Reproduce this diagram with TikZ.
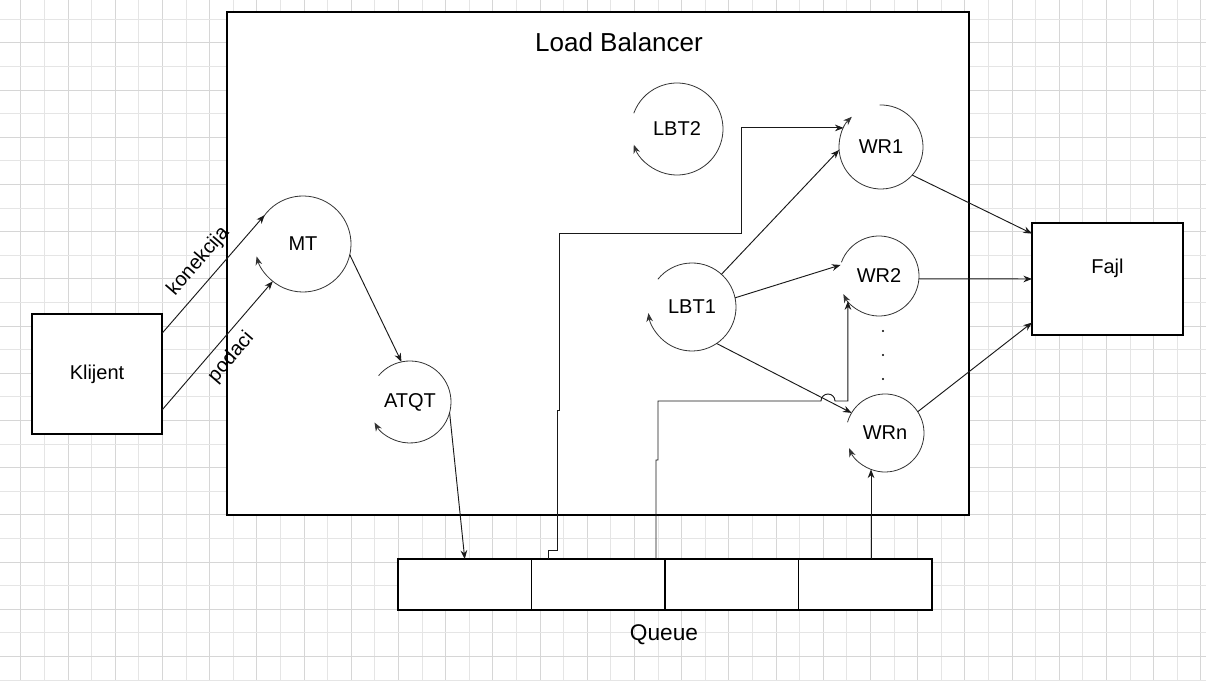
\documentclass[tikz,border=0pt]{standalone}
\usepackage{fontspec}
\setmainfont{Liberation Sans}
\usepackage{tikz}
\usetikzlibrary{arrows.meta,positioning,calc}

\begin{document}
\begin{tikzpicture}[x=0.75pt,y=0.75pt,
  box/.style={draw,fill=white,line width=0.9pt,inner sep=0pt,outer sep=0pt,font=\fontsize{15}{18}\selectfont},
  cell/.style={box,minimum width=100.125pt,minimum height=38.25pt},
  thread/.style={circle,inner sep=0pt,outer sep=0pt,font=\fontsize{15}{18}\selectfont},
  threadarc/.style={draw=black!80,line width=0.6pt,-{Stealth[length=6.5pt,width=5pt]}},
  conn/.style={draw=black!90,line width=0.7pt,-{Stealth[length=6.5pt,width=5pt]}},
  gridmajor/.style={draw=black!16,line width=0.6pt},
  gridminor/.style={draw=black!10,line width=0.6pt}]
\useasboundingbox (0,0) rectangle (1206,681);
\fill[white] (0,0) rectangle (1206,681);
% grid
\foreach \k in {1,3,...,49} \draw[gridminor] ({20.7+23.6*\k},0) -- ({20.7+23.6*\k},681);
\foreach \k in {0,2,...,50} \draw[gridmajor] ({20.7+23.6*\k},0) -- ({20.7+23.6*\k},681);
\foreach \k in {0,2,...,28} \draw[gridminor] (0,{661.7-23.6*\k}) -- (1206,{661.7-23.6*\k});
\foreach \k in {1,3,...,27} \draw[gridmajor] (0,{661.7-23.6*\k}) -- (1206,{661.7-23.6*\k});

% boxes
\node[box,minimum width=556.5pt,minimum height=377.25pt] (lb) at (598,417.5) {};
\node[font=\fontsize{19.5}{23}\selectfont] (lbtitle) at (619,639) {Load Balancer};
\node[box,minimum width=97.5pt,minimum height=90pt] (kl) at (97,307) {Klijent};
\node[box,minimum width=113.25pt,minimum height=84pt,text height=11pt,text depth=19pt] (fajl) at (1107.5,402) {Fajl};

% queue
\node[cell] (q1) at (464.75,96.5) {};
\node[cell,right=0pt of q1] (q2) {};
\node[cell,right=0pt of q2] (q3) {};
\node[cell,right=0pt of q3] (q4) {};
\node[font=\fontsize{17}{20}\selectfont] (qlabel) at (664,46) {Queue};

% threads
\node[thread,minimum size=72pt] (mt) at (303,437) {MT};
\node[thread,minimum size=61.5pt] (atqt) at (410,279) {ATQT};
\node[thread,minimum size=69pt] (lbt2) at (677,552) {LBT2};
\node[thread,minimum size=66pt] (lbt1) at (692,374) {LBT1};
\node[thread,minimum size=63pt] (wr1) at (881,534) {WR1};
\node[thread,minimum size=60pt] (wr2) at (879,405) {WR2};
\node[thread,minimum size=58.5pt] (wrn) at (885,248) {WRn};
\foreach \n/\s/\e/\r in {mt/145/-165/48,atqt/140/-150/41,lbt2/160/-160/46,lbt1/141/-172/44,
  wr1/92/-226/42,wr2/160/-153/40,wrn/164/-157/39}
  \draw[threadarc] (\n.\s) arc[start angle=\s,end angle=\e,radius=\r];
\foreach \y in {350,326,302} \fill (883,\y) circle (1.2);

% connectors
\draw[conn] (kl.32) -- node[sloped,above=4pt,font=\fontsize{15}{18}\selectfont] {konekcija} (mt.143);
\draw[conn] (kl.-29) -- node[sloped,below=3pt,font=\fontsize{15}{18}\selectfont] {podaci} (mt.231);
\draw[conn] (mt.-13) -- (atqt.102);
\draw[conn] (atqt.-15) -- (q1.north);
\draw[conn] ($(q2.north west)+(17,0)$) -- ++(0,9) -- ++(9,0) -- ++(0,140) -- ++(2,0) |- (741,448) |- (wr1.153);
\draw[conn] ($(q2.north east)+(-9,0)$) -- ++(0,99) -- ++(2,0) |- (821,280) arc[start angle=180,end angle=0,radius=7] -| (wr2.219);
\draw[conn] (wrn.249 |- q4.north) -- (wrn.249);
\draw[conn] (lbt1.48) -- (wr1.184);
\draw[conn] (lbt1.12) -- (wr2.164);
\draw[conn] (lbt1.-56) -- (wrn.149);
\draw[conn] (wr1.-42) -- (fajl.149);
\draw[conn] (wr2.-4) -- (fajl.west);
\draw[conn] (wrn.33) -- (fajl.210);
\end{tikzpicture}
\end{document}
